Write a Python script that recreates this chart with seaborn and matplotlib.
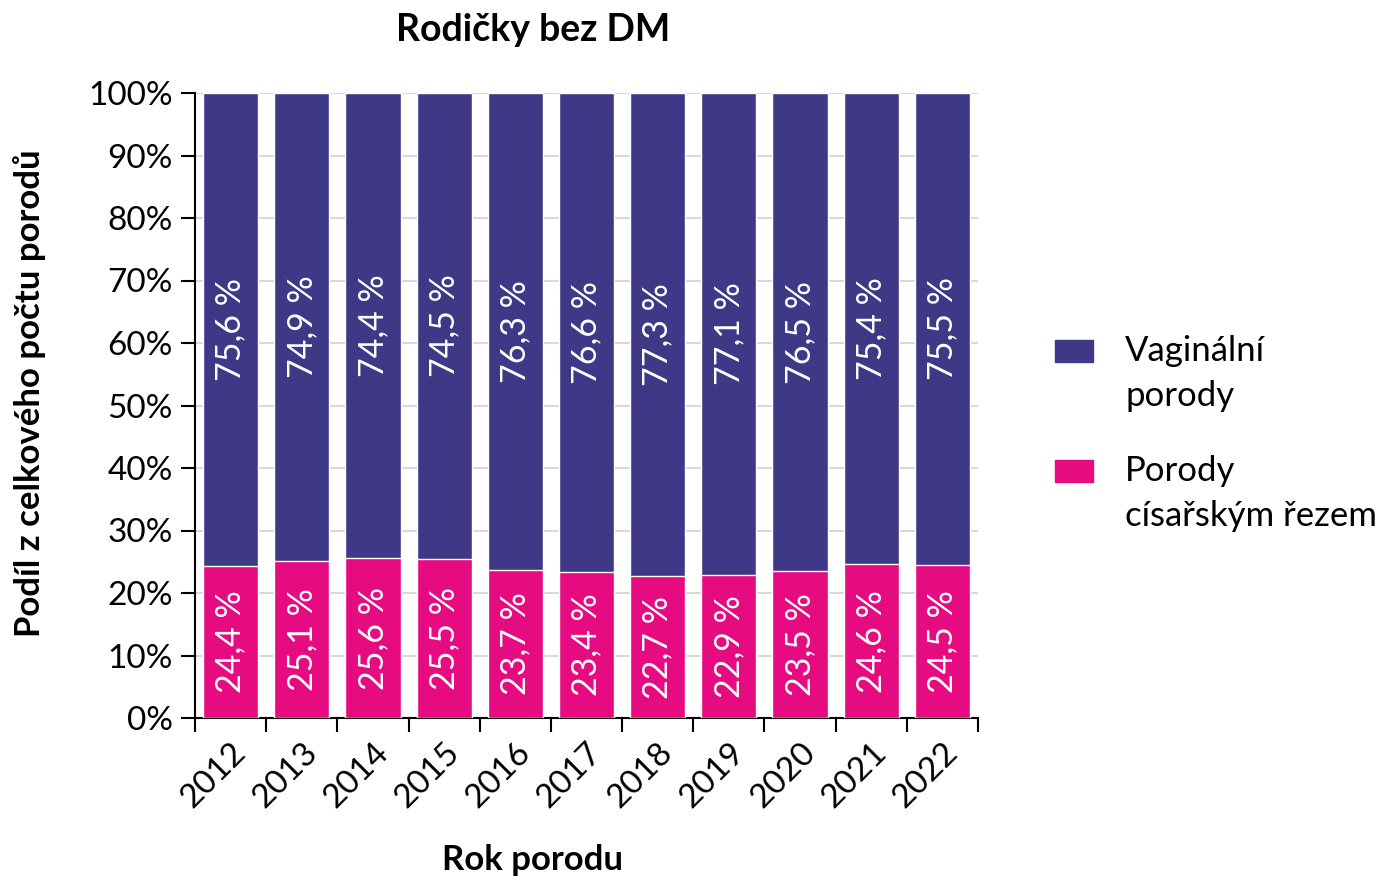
import pandas as pd
import matplotlib.pyplot as plt
import seaborn as sns
from matplotlib.patches import Rectangle

years = ['2012', '2013', '2014', '2015', '2016', '2017', '2018', '2019', '2020', '2021', '2022']
vaginal = [75.6, 74.9, 74.4, 74.5, 76.3, 76.6, 77.3, 77.1, 76.5, 75.4, 75.5]
cesarean = [24.4, 25.1, 25.6, 25.5, 23.7, 23.4, 22.7, 22.9, 23.5, 24.6, 24.5]
legend_labels = ['Vaginální\nporody', 'Porody\ncísařským řezem']

col_vag = '#3F3887'
col_ces = '#E60B80'

sns.set_style('white')
plt.rcParams['font.family'] = ['Lato', 'DejaVu Sans']
plt.rcParams['text.color'] = 'black'
plt.rcParams['xtick.color'] = 'black'
plt.rcParams['ytick.color'] = 'black'

df = pd.DataFrame({'rok': years, 'vag': vaginal, 'ces': cesarean})
df['total'] = df['vag'] + df['ces']

fig = plt.figure(figsize=(13.8, 8.81), dpi=100)
ax = fig.add_axes([195 / 1380, 1 - 718 / 881, (978 - 195) / 1380, (718 - 93) / 881])

sns.barplot(data=df, x='rok', y='total', color=col_vag, saturation=1, width=0.775, ax=ax, zorder=2)
sns.barplot(data=df, x='rok', y='ces', color=col_ces, saturation=1, width=0.775, ax=ax, zorder=3)

for i, (v, c) in enumerate(zip(vaginal, cesarean)):
    ax.text(i, c + v / 2, f'{v:.1f} %'.replace('.', ','), rotation=90, ha='center', va='center',
            color='white', fontsize=24.5, zorder=4)
    ax.text(i, c / 2, f'{c:.1f} %'.replace('.', ','), rotation=90, ha='center', va='center',
            color='white', fontsize=24.5, zorder=4)

ax.set_xlim(-0.5, len(years) - 0.5)
ax.set_ylim(0, 100)
ax.set_yticks(range(0, 101, 10))
ax.set_yticklabels([f'{t}%' for t in range(0, 101, 10)], fontsize=24)
ax.yaxis.grid(True, color='#d9d9d9', linewidth=1.5, zorder=0)
ax.set_axisbelow(True)

# ticks sit between the categories
ax.set_xticks([i - 0.5 for i in range(len(years) + 1)], minor=False)
ax.set_xticklabels([''] * (len(years) + 1))
ax.set_xticks(range(len(years)), minor=True)
ax.set_xticklabels(years, minor=True, rotation=45, ha='right', rotation_mode='anchor', fontsize=24)
ax.tick_params(axis='x', which='major', direction='out', length=10, width=1.5, color='black', bottom=True)
ax.tick_params(axis='x', which='minor', length=0, pad=14)
ax.tick_params(axis='y', direction='out', length=10, width=1.5, color='black', left=True, pad=6)

for s in ['top', 'right']:
    ax.spines[s].set_visible(False)
for s in ['left', 'bottom']:
    ax.spines[s].set_color('black')
    ax.spines[s].set_linewidth(1.5)

ax.set_xlabel('')
ax.set_ylabel('')
fig.text(533 / 1380, 1 - 30 / 881, 'Rodičky bez DM', ha='center', va='center', fontsize=27, fontweight='bold')
fig.text(533 / 1380, 1 - 860 / 881, 'Rok porodu', ha='center', va='center', fontsize=25, fontweight='bold')
fig.text(30 / 1380, 1 - 393 / 881, 'Podíl z celkového počtu porodů', ha='center', va='center',
         rotation=90, fontsize=25, fontweight='bold')

# legend: square markers aligned with first line of each label
for lab, col, top in zip(legend_labels, [col_vag, col_ces], [340, 460]):
    fig.patches.append(Rectangle((1055 / 1380, 1 - (top + 22) / 881), 38 / 1380, 22 / 881,
                                 transform=fig.transFigure, color=col, figure=fig))
    fig.text(1125 / 1380, 1 - (top - 5) / 881, lab, ha='left', va='top', fontsize=25, linespacing=1.5)

fig.savefig('out.png', dpi=100)
